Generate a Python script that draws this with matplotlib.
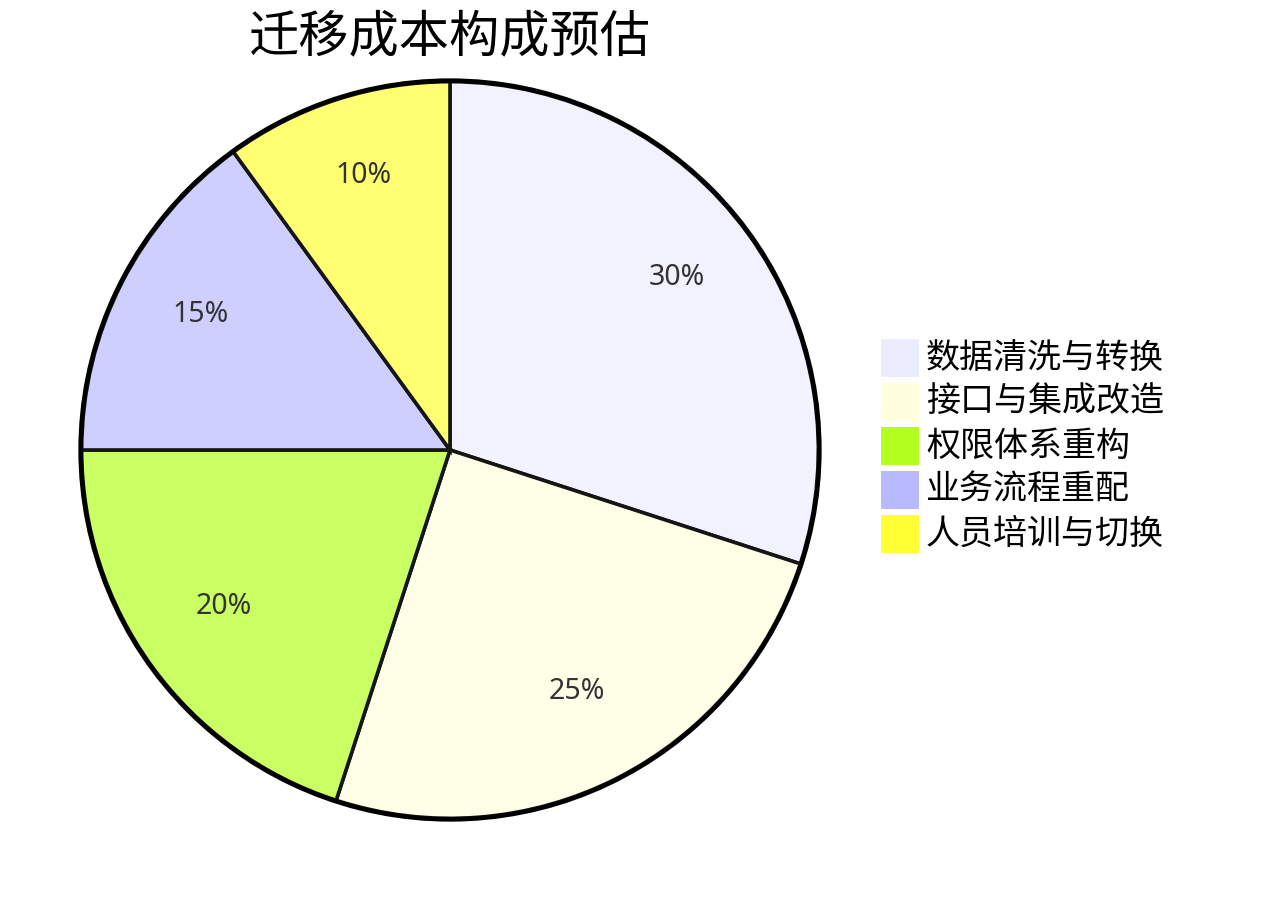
import matplotlib
matplotlib.use("Agg")
import matplotlib.pyplot as plt
from matplotlib.patches import Circle, Rectangle

plt.rcParams['font.family'] = ['Noto Sans CJK SC', 'DejaVu Sans']

title = "迁移成本构成预估"
labels = ["数据清洗与转换", "接口与集成改造", "权限体系重构", "业务流程重配", "人员培训与切换"]
values = [30, 25, 20, 15, 10]
legend_colors = ["#ECECFF", "#FFFFDE", "#B3FF20", "#B9B9FF", "#FFFF34"]
slice_alpha = 0.7


def blend(hex_color, alpha):
    # mimic a semi-transparent fill on white
    r, g, b = matplotlib.colors.to_rgb(hex_color)
    return (r * alpha + 1 - alpha, g * alpha + 1 - alpha, b * alpha + 1 - alpha)


W, H = 1265, 900
fig = plt.figure(figsize=(W / 100, H / 100), dpi=100)

cx, cy, r = 450, 450, 372
ax = fig.add_axes([(cx - r) / W, (H - cy - r) / H, 2 * r / W, 2 * r / H])

wedges, texts, autotexts = ax.pie(
    values,
    colors=[blend(c, slice_alpha) for c in legend_colors],
    startangle=90,
    counterclock=False,
    autopct='%d%%',
    pctdistance=0.76,
    wedgeprops=dict(edgecolor='#151515', linewidth=2.6),
    textprops=dict(fontsize=20.5, color='#333333', family=['Noto Sans', 'DejaVu Sans']),
)
# labels sit a little higher than the slice midpoint
for t in autotexts:
    x, y = t.get_position()
    t.set_position((x, y + 8 / r))

ax.add_patch(Circle((0, 0), 1.003, fill=False, edgecolor='black', linewidth=3.2, zorder=5))
ax.set_xlim(-1.01, 1.01)
ax.set_ylim(-1.01, 1.01)
ax.set_aspect('equal')
ax.axis('off')

fig.text(450 / W, 1 - 37 / H, title, fontsize=36.2, ha='center', va='center', color='black')

# legend, drawn by hand in figure pixels
box = 38
row_gap = 44
first_center = 358
for i, (lab, col) in enumerate(zip(labels, legend_colors)):
    yc = first_center + i * row_gap
    fig.patches.append(Rectangle((881 / W, 1 - (yc + box / 2) / H), box / W, box / H,
                                 transform=fig.transFigure, facecolor=col, edgecolor='none'))
    fig.text(926 / W, 1 - yc / H, lab, fontsize=24.5, ha='left', va='center', color='black')

fig.savefig("out.png", dpi=100)
